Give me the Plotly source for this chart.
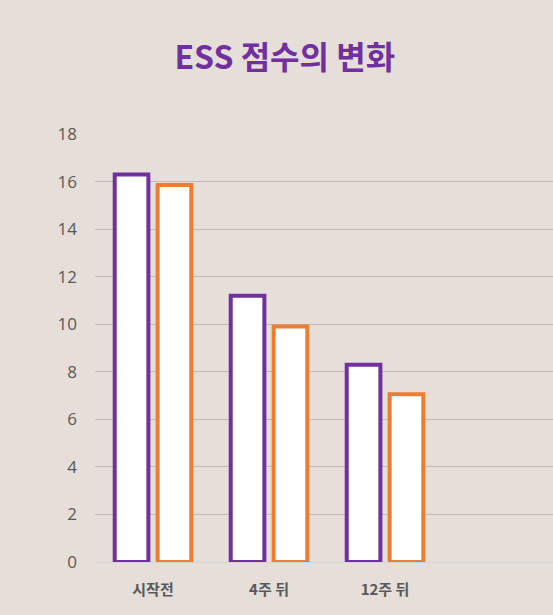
import plotly.graph_objects as go

# 색상
BG = "#E6DED9"
PURPLE = "#7030A0"
ORANGE = "#ED7D31"
GRID = "#C2BAB6"
TXT = "#595959"

# 데이터
categories = ["시작전", "4주 뒤", "12주 뒤"]
series_a = [16.3, 11.2, 8.3]
series_b = [15.85, 9.9, 7.05]

fig = go.Figure()
fig.add_trace(go.Bar(x=categories, y=series_a, name="A",
                     marker=dict(color="white", line=dict(color=PURPLE, width=4))))
fig.add_trace(go.Bar(x=categories, y=series_b, name="B",
                     marker=dict(color="white", line=dict(color=ORANGE, width=4))))

fig.update_layout(
    width=553, height=615,
    paper_bgcolor=BG, plot_bgcolor=BG,
    margin=dict(l=95, r=0, t=134, b=53),
    barmode="group", bargap=0.26, bargroupgap=0.216,
    showlegend=False,
    font=dict(family="Noto Sans CJK KR", color=TXT),
    title=dict(text="<b>ESS 점수의 변화</b>", x=0.515, xanchor="center",
               y=0.906, yanchor="middle",
               font=dict(size=32, color=PURPLE, family="Noto Sans CJK KR")),
)
fig.update_yaxes(range=[0, 18], dtick=2, showgrid=True, gridcolor=GRID, gridwidth=1,
                 zeroline=True, zerolinecolor="#D5D5D5", zerolinewidth=1,
                 showline=False, ticks="", ticklabelstandoff=17,
                 tickfont=dict(size=17, color=TXT, family="Open Sans"))
fig.update_xaxes(range=[-0.5, 3.448], showgrid=False, showline=False, ticks="",
                 ticklabelstandoff=17,
                 tickfont=dict(size=15, color=TXT, family="Noto Sans CJK KR"),
                 tickprefix="<b>", ticksuffix="</b>")

# 페이지 여백 제거
fig.write_html("out.html", config={"displayModeBar": False},
               post_script="document.body.style.margin='0';document.body.style.background='%s';" % BG)
